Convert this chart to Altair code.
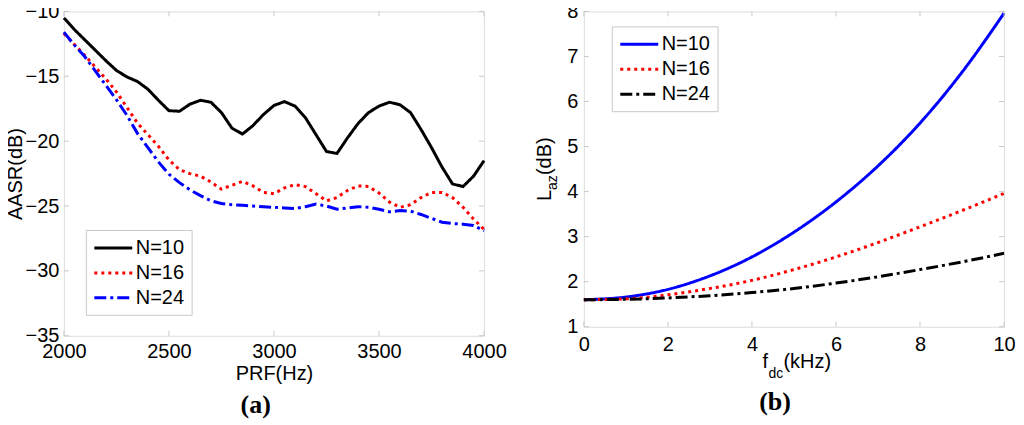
import altair as alt
import pandas as pd

# (a) AASR versus PRF
prf = list(range(2000, 4001, 50))
aasr_n10 = [-10.5, -11.4, -12.2, -13.0, -13.8, -14.55, -15.05, -15.4, -16.0, -16.85,
            -17.65, -17.7, -17.15, -16.85, -17.0, -17.8, -19.0, -19.45, -18.8, -17.95,
            -17.25, -16.95, -17.3, -18.2, -19.5, -20.8, -20.95, -19.75, -18.65, -17.8,
            -17.3, -17.0, -17.2, -17.8, -19.1, -20.5, -22.0, -23.3, -23.5, -22.7, -21.5]
aasr_n16 = [-11.7, -12.55, -13.4, -14.3, -15.2, -16.2, -17.4, -18.6, -19.5, -20.4,
            -21.45, -22.2, -22.5, -22.7, -23.15, -23.7, -23.4, -23.1, -23.45, -23.95,
            -24.05, -23.6, -23.35, -23.5, -24.05, -24.6, -24.35, -23.8, -23.45, -23.5,
            -24.0, -24.7, -25.1, -24.9, -24.35, -23.95, -23.95, -24.35, -25.1, -26.0, -26.8]
aasr_n24 = [-11.6, -12.6, -13.5, -14.6, -15.7, -16.8, -18.0, -19.4, -20.5, -21.6,
            -22.55, -23.2, -23.75, -24.2, -24.6, -24.8, -24.9, -24.95, -25.0, -25.05,
            -25.1, -25.15, -25.2, -25.05, -24.85, -25.0, -25.25, -25.15, -25.05, -25.1,
            -25.25, -25.45, -25.35, -25.4, -25.65, -25.95, -26.25, -26.35, -26.4, -26.5, -26.9]

# (b) L_az versus f_dc
fdc = list(range(0, 11))
laz_n10 = [1.60, 1.66, 1.83, 2.13, 2.55, 3.10, 3.77, 4.57, 5.52, 6.65, 7.96]
laz_n16 = [1.60, 1.62, 1.71, 1.85, 2.03, 2.27, 2.55, 2.87, 3.22, 3.58, 3.96]
laz_n24 = [1.60, 1.61, 1.64, 1.69, 1.76, 1.85, 1.97, 2.11, 2.27, 2.44, 2.63]

series = ["N=10", "N=16", "N=24"]
prf_ticks = [2000, 2500, 3000, 3500, 4000]
aasr_ticks = [-35, -30, -25, -20, -15, -10]
fdc_ticks = [0, 2, 4, 6, 8, 10]
laz_ticks = [1, 2, 3, 4, 5, 6, 7, 8]

FONT = "Liberation Sans"
GRAY = "#c8c8c8"
W = 421
HA, HB = 325, 316
dashes = [[1, 0], [3, 4], [12, 4, 3, 4]]


def long_df(xname, yname, xs, ys_list):
    return pd.DataFrame({
        xname: xs * len(ys_list),
        yname: [v for ys in ys_list for v in ys],
        "series": [s for s in series for _ in xs],
    })


def legend(lx, ly):
    # path starts at the symbol's left edge and runs 38px to the right
    return alt.Legend(title=None, orient="none", legendX=lx, legendY=ly,
                      strokeColor=GRAY, fillColor="white", padding=7,
                      symbolType="M-1,0H3", symbolSize=361, symbolStrokeWidth=3,
                      labelFont=FONT, labelFontSize=20, labelColor="black",
                      labelOffset=21, rowPadding=4)


def axis(values, title=None, **kw):
    return alt.Axis(values=values, title=title, grid=False, domain=False, ticks=False,
                    labelFont=FONT, labelFontSize=20, labelColor="black",
                    labelOverlap=False, labelFlush=False, format="d",
                    titleFont=FONT, titleFontSize=20, titleFontWeight="normal",
                    titleColor="black", **kw)


def inner_ticks(xname, yname, xt, yt, xdom, ydom, h):
    # small inward ticks on all four sides of the box
    xd = pd.DataFrame({xname: xt})
    yd = pd.DataFrame({yname: yt})
    xs = alt.X(f"{xname}:Q", scale=alt.Scale(domain=xdom, nice=False, zero=False))
    ys = alt.Y(f"{yname}:Q", scale=alt.Scale(domain=ydom, nice=False, zero=False))
    base_x = alt.Chart(xd).mark_rule(color=GRAY, strokeWidth=1)
    base_y = alt.Chart(yd).mark_rule(color=GRAY, strokeWidth=1)
    return [
        base_x.encode(x=xs, y=alt.value(h), y2=alt.value(h - 5)),
        base_x.encode(x=xs, y=alt.value(0), y2=alt.value(5)),
        base_y.encode(y=ys, x=alt.value(0), x2=alt.value(5)),
        base_y.encode(y=ys, x=alt.value(W), x2=alt.value(W - 5)),
    ]


def label_text(txt, x, y, size, angle=0):
    return alt.Chart(pd.DataFrame({"t": [0]})).mark_text(
        text=txt, font=FONT, fontSize=size, color="black",
        align="left", baseline="alphabetic", angle=angle,
    ).encode(x=alt.value(x), y=alt.value(y))


sub_title = dict(orient="bottom", anchor="middle", frame="bounds",
                 font="Liberation Serif", fontSize=26, fontWeight="bold",
                 color="black", offset=8)

# ---- panel (a)
df_a = long_df("prf", "aasr", prf, [aasr_n10, aasr_n16, aasr_n24])
lines_a = alt.Chart(df_a).mark_line(strokeWidth=3, strokeCap="butt").encode(
    x=alt.X("prf:Q", scale=alt.Scale(domain=[2000, 4000], nice=False, zero=False),
            axis=axis(prf_ticks, "PRF(Hz)", labelPadding=6, titlePadding=2)),
    y=alt.Y("aasr:Q", scale=alt.Scale(domain=[-35, -10], nice=False, zero=False),
            axis=axis(aasr_ticks, "AASR(dB)", labelPadding=5, titlePadding=0)),
    color=alt.Color("series:N", scale=alt.Scale(domain=series, range=["black", "#ff0000", "#0000ff"]),
                    legend=legend(22, 219)),
    strokeDash=alt.StrokeDash("series:N", scale=alt.Scale(domain=series, range=dashes),
                              legend=legend(22, 219)),
    order=alt.Order("series:N"),
)
panel_a = alt.layer(lines_a, *inner_ticks("prf", "aasr", prf_ticks, aasr_ticks,
                                          [2000, 4000], [-35, -10], HA)).properties(
    width=W, height=HA, title=alt.TitleParams("(a)", **sub_title))

# ---- panel (b)
df_b = long_df("fdc", "laz", fdc, [laz_n10, laz_n16, laz_n24])
lines_b = alt.Chart(df_b).mark_line(strokeWidth=3, strokeCap="butt", interpolate="monotone").encode(
    x=alt.X("fdc:Q", scale=alt.Scale(domain=[0, 10], nice=False, zero=False),
            axis=axis(fdc_ticks, labelPadding=8)),
    y=alt.Y("laz:Q", scale=alt.Scale(domain=[1, 8], nice=False, zero=False),
            axis=axis(laz_ticks, labelPadding=6)),
    color=alt.Color("series:N", scale=alt.Scale(domain=series, range=["#0000ff", "#ff0000", "black"]),
                    legend=legend(28, 15)),
    strokeDash=alt.StrokeDash("series:N", scale=alt.Scale(domain=series, range=dashes),
                              legend=legend(28, 15)),
    order=alt.Order("series:N"),
)
titles_b = [
    label_text("f", 179, HB + 41, 20),
    label_text("dc", 185, HB + 51, 14),
    label_text("(kHz)", 200, HB + 41, 20),
    label_text("L", -33, 190, 20, 270),
    label_text("az", -27, 179, 14, 270),
    label_text("(dB)", -33, 164, 20, 270),
]
panel_b = alt.layer(lines_b, *inner_ticks("fdc", "laz", fdc_ticks, laz_ticks,
                                          [0, 10], [1, 8], HB), *titles_b).properties(
    width=W, height=HB, title=alt.TitleParams("(b)", **sub_title))

# flush bounds: spacing is measured between the two plot boxes
chart = alt.hconcat(panel_a, panel_b, spacing=100, bounds="flush").resolve_scale(
    color="independent", strokeDash="independent"
).resolve_legend(color="independent", strokeDash="independent").properties(
    padding={"left": -4, "top": -8, "right": 0, "bottom": 0}
).configure_view(stroke=GRAY, strokeWidth=1).configure(font=FONT, background="white")

chart.save("out.html", embed_options={"renderer": "svg", "actions": False})
